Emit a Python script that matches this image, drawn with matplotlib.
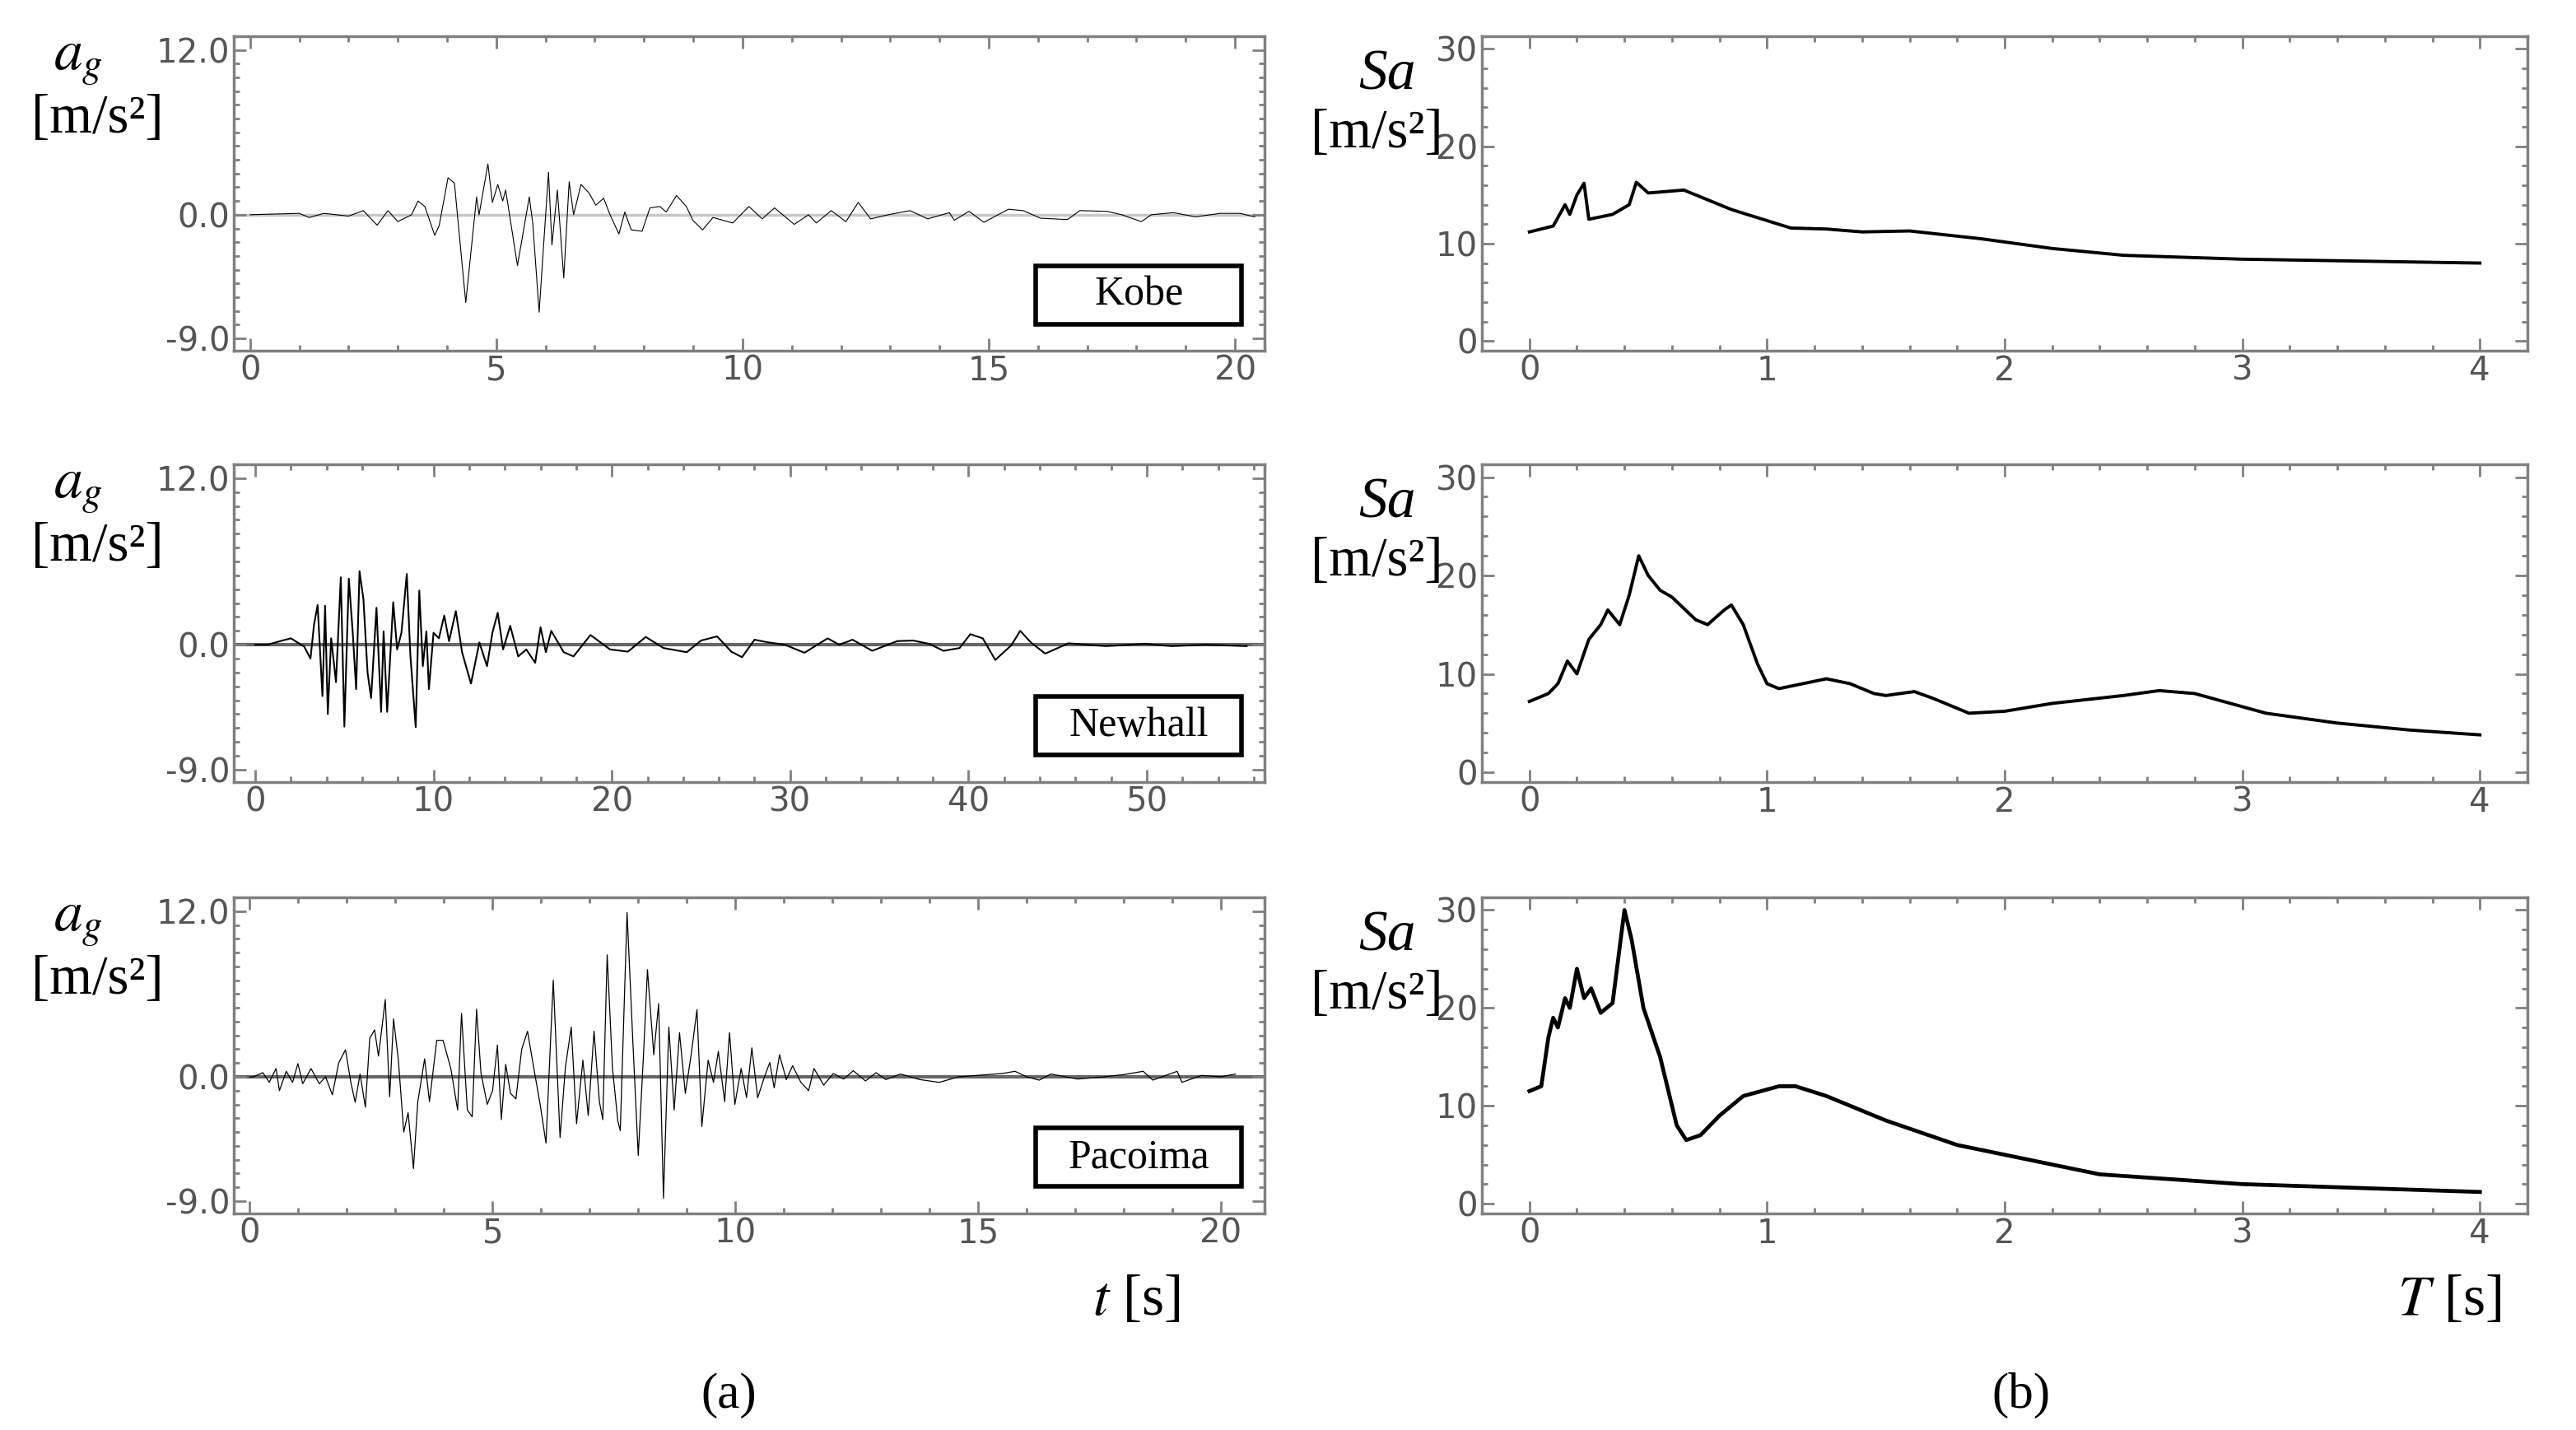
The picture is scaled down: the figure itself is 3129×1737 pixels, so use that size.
import matplotlib
matplotlib.use("Agg")
import matplotlib.pyplot as plt
from matplotlib.ticker import MultipleLocator
from matplotlib.patches import Rectangle

kobe_t = [0,0.5,1.0,1.2,1.5,2.0,2.3,2.58,2.8,3.0,3.28,3.41,3.55,3.75,3.84,4.02,4.15,4.38,4.6,4.65,4.83,4.92,5.03,5.13,5.19,5.43,5.67,5.74,5.87,6.06,6.13,6.24,6.37,6.48,6.57,6.72,6.88,7.02,7.18,7.31,7.49,7.61,7.74,7.96,8.12,8.32,8.45,8.66,8.86,8.99,9.19,9.4,9.8,10.13,10.4,10.65,11.05,11.34,11.5,11.8,12.1,12.35,12.6,12.96,13.4,13.76,14.2,14.3,14.6,14.9,15.4,15.7,16.05,16.6,16.85,17.4,17.7,18.1,18.3,18.75,19.2,19.7,20.1,20.4]
kobe_a = [0,0.05,0.1,-0.2,0.1,-0.1,0.3,-0.76,0.3,-0.5,0,1.0,0.6,-1.5,-0.8,2.7,2.3,-6.4,1.3,0,3.7,0.9,2.2,1.0,1.8,-3.7,1.3,-0.6,-7.1,3.1,-2.2,1.8,-4.6,2.4,0,2.2,1.6,0.7,1.2,0,-1.4,0.2,-1.1,-1.2,0.5,0.6,0.2,1.4,0.6,-0.4,-1.1,-0.2,-0.6,0.6,-0.3,0.5,-0.7,0,-0.6,0.3,-0.5,0.9,-0.3,0,0.3,-0.3,0.15,-0.4,0.25,-0.55,0.4,0.3,-0.25,-0.35,0.3,0.25,0,-0.5,0,0.15,-0.15,0.1,0.1,-0.15]

newhall_t = [0,0.7,1.4,2.0,2.75,3.1,3.3,3.5,3.77,3.92,4.07,4.26,4.53,4.8,5.0,5.25,5.47,5.66,5.85,6.07,6.3,6.5,6.8,7.06,7.2,7.4,7.74,7.96,8.2,8.5,8.7,9.0,9.2,9.4,9.6,9.74,10.0,10.3,10.6,10.87,11.25,11.6,12.1,12.57,13.0,13.3,13.6,13.9,14.3,14.75,15.2,15.7,16.0,16.3,16.6,17.3,17.85,18.8,19.9,20.9,21.9,22.9,24.2,25.0,25.9,26.7,27.3,28.0,28.8,29.7,30.8,32.1,32.75,33.5,34.6,36.0,36.9,37.8,38.6,39.5,40.1,40.8,41.5,42.4,42.9,43.5,44.3,45.6,47.7,49.9,51.4,53.3,55.6]
newhall_a = [0,0,0.26,0.46,-0.14,-1.0,1.46,2.86,-3.7,2.8,-5.0,0.46,-2.7,4.86,-5.9,4.76,0.86,-3.2,5.3,3.26,-2.0,-3.84,2.66,-4.84,0.96,-4.84,3.06,-0.34,0.86,5.1,-0.74,-5.94,3.9,-1.54,0.96,-3.2,0.86,0.46,2.1,0.26,2.42,-0.54,-2.8,0.16,-1.54,0.86,2.3,-0.34,1.36,-0.84,-0.34,-1.3,1.26,-0.54,1.0,-0.54,-0.84,0.7,-0.34,-0.5,0.56,-0.24,-0.54,0.3,0.6,-0.5,-0.9,0.36,0.16,0,-0.58,0.46,0,0.36,-0.44,0.26,0.3,0.06,-0.44,-0.24,0.76,0.46,-1.1,-0.04,1.0,0.16,-0.64,0.1,-0.1,0.06,-0.1,0,-0.1]

pacoima_t = [0,0.07,0.27,0.4,0.54,0.61,0.75,0.88,0.99,1.09,1.26,1.43,1.56,1.7,1.83,1.97,2.08,2.17,2.27,2.38,2.47,2.57,2.65,2.79,2.88,2.96,3.06,3.17,3.26,3.37,3.46,3.6,3.7,3.85,3.98,4.14,4.28,4.36,4.48,4.58,4.67,4.76,4.89,5.0,5.1,5.18,5.27,5.37,5.48,5.6,5.72,5.86,5.98,6.1,6.25,6.39,6.5,6.62,6.73,6.86,6.97,7.09,7.2,7.27,7.36,7.47,7.58,7.63,7.77,7.89,8.0,8.11,8.19,8.32,8.42,8.52,8.63,8.74,8.85,8.97,9.09,9.21,9.31,9.44,9.55,9.65,9.78,9.88,9.99,10.12,10.23,10.34,10.46,10.6,10.71,10.8,10.91,11.05,11.18,11.35,11.51,11.62,11.82,12.02,12.23,12.43,12.68,12.9,13.1,13.4,13.8,14.2,14.6,15.5,15.76,16.0,16.26,16.5,17.05,17.6,18.0,18.4,18.6,19.1,19.2,19.6,20.0,20.3]
pacoima_a = [0,0,0.3,-0.4,0.6,-1.0,0.4,-0.4,0.96,-0.5,0.6,-0.5,0,-1.3,1.0,1.96,-0.4,-1.84,0.2,-2.2,2.8,3.4,1.5,5.6,-1.44,4.2,1.2,-4.0,-2.6,-6.64,-1.8,1.3,-1.8,2.64,2.64,0.6,-2.4,4.6,-2.4,-2.9,4.9,0.3,-2.0,-1.0,2.3,-3.1,0.9,-1.2,-1.6,2.0,3.3,0.4,-2.0,-4.8,7.0,-4.4,0.7,3.6,-3.4,1.2,-2.8,3.3,-1.8,-3.1,8.84,0.6,-3.2,-3.9,11.9,2.5,-5.7,1.7,7.76,1.6,5.3,-8.8,3.6,-2.4,3.2,-1.2,1.6,4.86,-3.6,1.2,-0.4,1.84,-1.8,3.2,-2.0,0.6,-1.5,2.1,-1.52,0,1.04,-0.8,1.6,-0.2,0.8,-0.4,-1.0,0.6,-0.6,0.24,-0.16,0.44,-0.3,0.3,-0.2,0.2,-0.2,-0.4,0,0.24,0.4,0,-0.24,0.2,-0.16,0,0.16,0.4,-0.24,0.4,-0.4,0.1,0,0.2]

kobe_T = [0,0.1,0.15,0.17,0.2,0.23,0.25,0.35,0.42,0.45,0.5,0.65,0.85,1.1,1.25,1.4,1.6,1.9,2.2,2.5,3.0,3.5,4.0]
kobe_Sa = [11.2,11.8,14,13,15,16.2,12.5,13,14,16.3,15.2,15.5,13.5,11.6,11.5,11.2,11.3,10.5,9.5,8.8,8.4,8.2,8.0]
newhall_T = [0,0.08,0.12,0.16,0.2,0.25,0.3,0.33,0.38,0.42,0.46,0.5,0.55,0.6,0.7,0.75,0.82,0.85,0.9,0.96,1.0,1.05,1.15,1.25,1.35,1.45,1.5,1.62,1.7,1.85,2.0,2.2,2.5,2.65,2.8,3.1,3.4,3.7,4.0]
newhall_Sa = [7.2,8,9,11.3,10,13.5,15,16.5,15,18,22,20,18.5,17.8,15.5,15,16.5,17,15,11,9,8.5,9,9.5,9,8,7.8,8.2,7.5,6,6.2,7,7.8,8.3,8,6,5,4.3,3.8]
pacoima_T = [0,0.05,0.08,0.1,0.12,0.15,0.17,0.2,0.23,0.26,0.3,0.35,0.4,0.43,0.48,0.55,0.62,0.66,0.72,0.8,0.9,1.05,1.12,1.25,1.5,1.8,2.1,2.4,2.7,3.0,3.5,4.0]
pacoima_Sa = [11.5,12,17,19,18,21,20,24,21,22,19.5,20.5,30,27,20,15,8,6.5,7,9,11,12,12,11,8.5,6,4.5,3,2.5,2,1.6,1.2]

records = [("Kobe", kobe_t, kobe_a, 20.6, 0.8, "#c8c8c8", 1.0),
           ("Newhall", newhall_t, newhall_a, 56.6, 1.5, "#666666", 1.6),
           ("Pacoima", pacoima_t, pacoima_a, 20.9, 0.9, "#666666", 1.0)]
spectra = [(kobe_T, kobe_Sa), (newhall_T, newhall_Sa), (pacoima_T, pacoima_Sa)]

W, H = 3129, 1737
fig = plt.figure(figsize=(W/100, H/100), dpi=100)
serif = "Liberation Serif"
gray = "#808080"
rows = [(44, 426), (564, 950), (1090, 1474)]

def style(ax):
    for s in ax.spines.values():
        s.set_color(gray); s.set_linewidth(2.5)
    ax.tick_params(which="both", direction="in", top=True, right=True, color=gray, labelcolor="#555555", labelsize=29, width=2)
    ax.tick_params(which="major", length=11)
    ax.tick_params(which="minor", length=5)
    for lab in ax.get_xticklabels()+ax.get_yticklabels():
        lab.set_family("DejaVu Sans")

for i, (name, t, a, xmax, lw, zc, zw) in enumerate(records):
    top, bot = rows[i]
    ax = fig.add_axes([284/W, 1-bot/H, (1536-284)/W, (bot-top)/H])
    ax.axhline(0, color=zc, lw=2.5 if i == 0 else 3, zorder=1)
    ax.plot(t, a, color="black", lw=lw, zorder=2)
    ax.set_xlim(-0.33 if xmax < 30 else -1.2, xmax)
    ax.set_ylim(-9.9, 13.0)
    ax.set_yticks([-9, 0, 12]); ax.set_yticklabels(["-9.0", "0.0", "12.0"])
    if xmax < 30:
        ax.xaxis.set_major_locator(MultipleLocator(5)); ax.xaxis.set_minor_locator(MultipleLocator(1))
    else:
        ax.xaxis.set_major_locator(MultipleLocator(10)); ax.xaxis.set_minor_locator(MultipleLocator(2))
    ax.yaxis.set_minor_locator(MultipleLocator(1))
    style(ax)
    ax.add_patch(Rectangle((0.778, 0.085), 0.2, 0.185, transform=ax.transAxes, fc="white", ec="black", lw=4, zorder=5))
    ax.text(0.878, 0.177, name, transform=ax.transAxes, ha="center", va="center", family=serif, fontsize=36, zorder=6)
    fig.text(95/W, 1-(top+30)/H, "$a_g$", family=serif, fontsize=50, ha="center", va="center",
             math_fontfamily="stix")
    fig.text(118/W, 1-(top+100)/H, "[m/s²]", family=serif, fontsize=48, ha="center", va="center")

    T, Sa = spectra[i]
    ax2 = fig.add_axes([1800/W, 1-bot/H, (3070-1800)/W, (bot-top)/H])
    ax2.plot(T, Sa, color="black", lw=2.8 if i < 2 else 3.4)
    ax2.set_xlim(-0.2, 4.2); ax2.set_ylim(-1, 31.3)
    ax2.set_yticks([0, 10, 20, 30]); ax2.set_xticks([0, 1, 2, 3, 4])
    ax2.xaxis.set_minor_locator(MultipleLocator(0.2)); ax2.yaxis.set_minor_locator(MultipleLocator(2))
    style(ax2)
    fig.text(1685/W, 1-(top+48)/H, "Sa", family=serif, style="italic", fontsize=50, ha="center", va="center")
    fig.text(1672/W, 1-(top+118)/H, "[m/s²]", family=serif, fontsize=48, ha="center", va="center")

fig.text(1380/W, 1-1580/H, "$t$ [s]", family=serif, fontsize=50, ha="center", va="center", math_fontfamily="stix")
fig.text(2975/W, 1-1580/H, "$T$ [s]", family=serif, fontsize=50, ha="center", va="center", math_fontfamily="stix")
fig.text(885/W, 1-1695/H, "(a)", family=serif, fontsize=44, ha="center", va="center")
fig.text(2455/W, 1-1695/H, "(b)", family=serif, fontsize=44, ha="center", va="center")
fig.savefig("out.png", dpi=100, facecolor="white")
